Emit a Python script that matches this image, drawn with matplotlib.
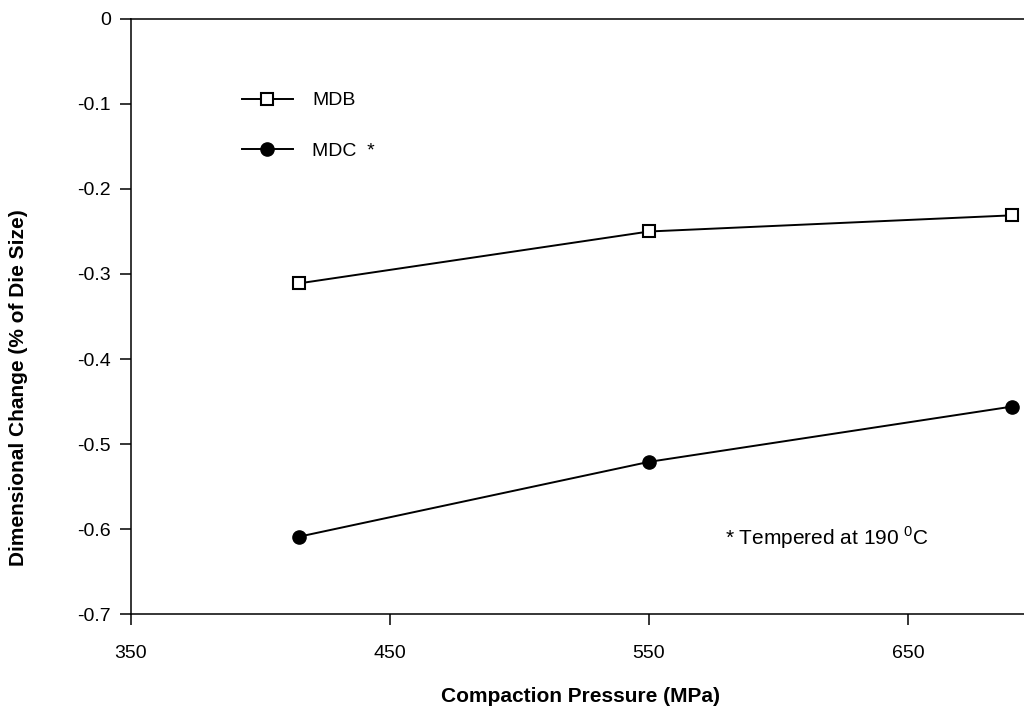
import numpy as np
import matplotlib
matplotlib.use('Agg')
import matplotlib.pyplot as plt

# ------------------------------------------------------------------------------
# Data
# ------------------------------------------------------------------------------
pressure = [415, 550, 690]
mdb = [-0.311, -0.250, -0.231]
mdc = [-0.609, -0.521, -0.456]

x_ticks = [350, 450, 550, 650]
y_ticks = [0, -0.1, -0.2, -0.3, -0.4, -0.5, -0.6, -0.7]
y_tick_labels = ['0', '-0.1', '-0.2', '-0.3', '-0.4', '-0.5', '-0.6', '-0.7']

# ------------------------------------------------------------------------------
# Plot
# ------------------------------------------------------------------------------
plt.rcParams['font.family'] = 'Liberation Sans'
plt.rcParams['mathtext.fontset'] = 'custom'
plt.rcParams['mathtext.rm'] = 'Liberation Sans'

fig = plt.figure(figsize=(10.24, 7.11), dpi=100)
ax = fig.add_axes([0.1276, 0.1364, 1 - 0.1276, 0.9733 - 0.1364])

ax.plot(pressure, mdb, color='black', lw=1.4, marker='s', ms=9,
        mfc='white', mec='black', mew=1.5, label='MDB', clip_on=False,
        zorder=3)
ax.plot(pressure, mdc, color='black', lw=1.4, marker='o', ms=9.5,
        mfc='black', mec='black', label='MDC  *', clip_on=False, zorder=3)

ax.set_xlim(350, 694.7)
ax.set_ylim(-0.7, 0)
ax.set_xticks(x_ticks)
ax.set_yticks(y_ticks)
ax.set_yticklabels(y_tick_labels)

ax.spines['right'].set_visible(False)
for side in ['left', 'bottom', 'top']:
    ax.spines[side].set_linewidth(1.1)

ax.tick_params(axis='both', direction='out', length=8, width=1.1,
               labelsize=14, pad=6)
ax.tick_params(axis='x', pad=14)

ax.set_xlabel('Compaction Pressure (MPa)', fontsize=15, fontweight='bold')
ax.set_ylabel('Dimensional Change (% of Die Size)', fontsize=15,
              fontweight='bold')
ax.xaxis.set_label_coords(0.503, -0.122)
ax.yaxis.set_label_coords(-0.115, 0.38)

ax.legend(loc='upper left', bbox_to_anchor=(0.105, 0.907), frameon=False,
          fontsize=14, handlelength=2.6, handletextpad=1.0,
          labelspacing=1.7)

ax.text(0.665, 0.129, r'* Tempered at 190 $^{0}$C', transform=ax.transAxes,
        fontsize=15, va='center', ha='left')

fig.savefig('out.png', dpi=100)
